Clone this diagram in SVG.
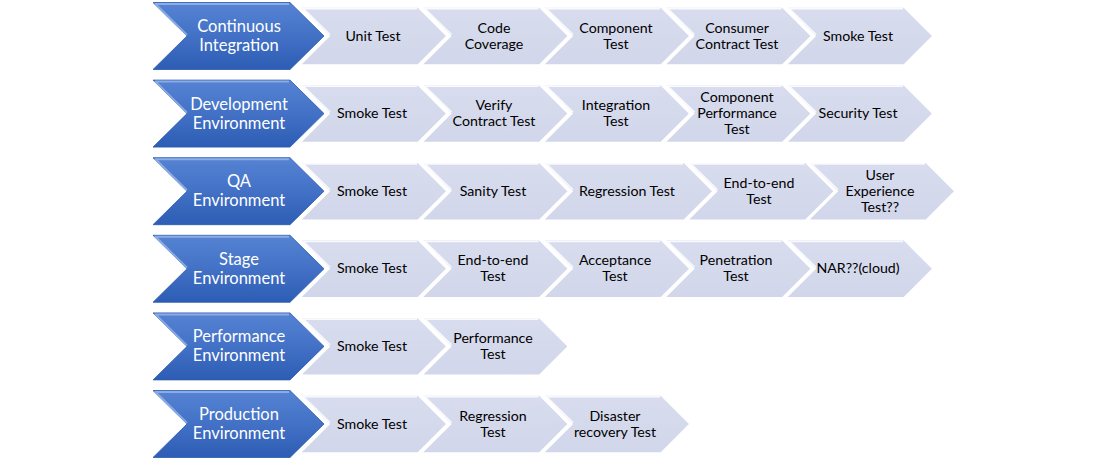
<svg xmlns="http://www.w3.org/2000/svg" xmlns:xlink="http://www.w3.org/1999/xlink" width="1105" height="462" viewBox="0 0 1105 462">
  <style>
    .stage { fill: url(#blueFill); stroke: #2a5aae; stroke-width: 0.8; }
    .stage-hl { fill: none; stroke: #9fbbea; stroke-width: 2; stroke-opacity: 0.75; stroke-linejoin: round; }
    .step { fill: url(#lightFill); stroke: #ffffff; stroke-width: 1.6; stroke-linejoin: miter; }
    .step-hl { fill: none; stroke: #ffffff; stroke-width: 1.6; stroke-opacity: 0.85; }
    .stage-text { font-family: "Lato", "Liberation Sans", sans-serif; font-size: 16.5px; fill: #ffffff; text-anchor: middle; }
    .step-text { font-family: "Lato", "Liberation Sans", sans-serif; font-size: 14.2px; fill: #000000; text-anchor: middle; }
  </style>
  <defs>
    <linearGradient id="blueFill" x1="0" y1="0" x2="0" y2="1">
      <stop offset="0" stop-color="#5683d3"/>
      <stop offset="0.5" stop-color="#4271c6"/>
      <stop offset="1" stop-color="#2d5db4"/>
    </linearGradient>
    <linearGradient id="lightFill" x1="0" y1="0" x2="0" y2="1">
      <stop offset="0" stop-color="#d8dcee"/>
      <stop offset="1" stop-color="#d1d6ea"/>
    </linearGradient>
    <!-- shapes drawn around a vertical centre of 0 -->
    <path id="stageShape" d="M0,-33.5 H137 L171,0 L137,33.5 H0 L34,0 Z"/>
    <path id="stageGloss" d="M34,-1 L2.5,-32 H136"/>
    <path id="stepShape" d="M0,-29 H118 L147,0 L118,29 H0 L29,0 Z"/>
    <path id="stepWide" d="M0,-29 H141 L170,0 L141,29 H0 L29,0 Z"/>
    <path id="stepGloss" d="M30,-1.5 L3.5,-27.3 H117"/>
    <path id="stepWideGloss" d="M30,-1.5 L3.5,-27.3 H140"/>
  </defs>

  <!-- Row 1: Continuous Integration -->
  <g id="row-ci">
    <g id="ci-unit"><use xlink:href="#stepShape" class="step" x="300" y="36"/><use xlink:href="#stepGloss" class="step-hl" x="300" y="36"/><text class="step-text" x="373" y="40.5">Unit Test</text></g>
    <g id="ci-coverage"><use xlink:href="#stepShape" class="step" x="421.5" y="36"/><use xlink:href="#stepGloss" class="step-hl" x="421.5" y="36"/><text class="step-text" x="494" y="32.5">Code<tspan x="494" dy="16">Coverage</tspan></text></g>
    <g id="ci-component"><use xlink:href="#stepShape" class="step" x="543" y="36"/><use xlink:href="#stepGloss" class="step-hl" x="543" y="36"/><text class="step-text" x="616" y="32.5">Component<tspan x="616" dy="16">Test</tspan></text></g>
    <g id="ci-consumer"><use xlink:href="#stepShape" class="step" x="664.5" y="36"/><use xlink:href="#stepGloss" class="step-hl" x="664.5" y="36"/><text class="step-text" x="737" y="32.5">Consumer<tspan x="737" dy="16">Contract Test</tspan></text></g>
    <g id="ci-smoke"><use xlink:href="#stepShape" class="step" x="786" y="36"/><use xlink:href="#stepGloss" class="step-hl" x="786" y="36"/><text class="step-text" x="858" y="40.5">Smoke Test</text></g>
    <g id="ci-stage"><use xlink:href="#stageShape" class="stage" x="153" y="36"/><use xlink:href="#stageGloss" class="stage-hl" x="153" y="36"/><text class="stage-text" x="239" y="32">Continuous<tspan x="239" dy="19">Integration</tspan></text></g>
  </g>

  <!-- Row 2: Development Environment -->
  <g id="row-dev">
    <g id="dev-smoke"><use xlink:href="#stepShape" class="step" x="300" y="113.6"/><use xlink:href="#stepGloss" class="step-hl" x="300" y="113.6"/><text class="step-text" x="372" y="118.1">Smoke Test</text></g>
    <g id="dev-verify"><use xlink:href="#stepShape" class="step" x="421.5" y="113.6"/><use xlink:href="#stepGloss" class="step-hl" x="421.5" y="113.6"/><text class="step-text" x="494" y="110.1">Verify<tspan x="494" dy="16">Contract Test</tspan></text></g>
    <g id="dev-integration"><use xlink:href="#stepShape" class="step" x="543" y="113.6"/><use xlink:href="#stepGloss" class="step-hl" x="543" y="113.6"/><text class="step-text" x="616" y="110.1">Integration<tspan x="616" dy="16">Test</tspan></text></g>
    <g id="dev-perf"><use xlink:href="#stepShape" class="step" x="664.5" y="113.6"/><use xlink:href="#stepGloss" class="step-hl" x="664.5" y="113.6"/><text class="step-text" x="737" y="102.1">Component<tspan x="737" dy="16">Performance</tspan><tspan x="737" dy="16">Test</tspan></text></g>
    <g id="dev-security"><use xlink:href="#stepShape" class="step" x="786" y="113.6"/><use xlink:href="#stepGloss" class="step-hl" x="786" y="113.6"/><text class="step-text" x="858" y="118.1">Security Test</text></g>
    <g id="dev-stage"><use xlink:href="#stageShape" class="stage" x="153" y="113.6"/><use xlink:href="#stageGloss" class="stage-hl" x="153" y="113.6"/><text class="stage-text" x="239" y="109.6">Development<tspan x="239" dy="19">Environment</tspan></text></g>
  </g>

  <!-- Row 3: QA Environment -->
  <g id="row-qa">
    <g id="qa-smoke"><use xlink:href="#stepShape" class="step" x="300" y="191.2"/><use xlink:href="#stepGloss" class="step-hl" x="300" y="191.2"/><text class="step-text" x="372" y="195.7">Smoke Test</text></g>
    <g id="qa-sanity"><use xlink:href="#stepShape" class="step" x="421.5" y="191.2"/><use xlink:href="#stepGloss" class="step-hl" x="421.5" y="191.2"/><text class="step-text" x="493" y="195.7">Sanity Test</text></g>
    <g id="qa-regression"><use xlink:href="#stepWide" class="step" x="543" y="191.2"/><use xlink:href="#stepWideGloss" class="step-hl" x="543" y="191.2"/><text class="step-text" x="627" y="195.7">Regression Test</text></g>
    <g id="qa-e2e"><use xlink:href="#stepShape" class="step" x="687.5" y="191.2"/><use xlink:href="#stepGloss" class="step-hl" x="687.5" y="191.2"/><text class="step-text" x="759" y="187.7">End-to-end<tspan x="759" dy="16">Test</tspan></text></g>
    <g id="qa-ux"><use xlink:href="#stepShape" class="step" x="808" y="191.2"/><use xlink:href="#stepGloss" class="step-hl" x="808" y="191.2"/><text class="step-text" x="880" y="179.7">User<tspan x="880" dy="16">Experience</tspan><tspan x="880" dy="16">Test??</tspan></text></g>
    <g id="qa-stage"><use xlink:href="#stageShape" class="stage" x="153" y="191.2"/><use xlink:href="#stageGloss" class="stage-hl" x="153" y="191.2"/><text class="stage-text" x="239" y="187.2">QA<tspan x="239" dy="19">Environment</tspan></text></g>
  </g>

  <!-- Row 4: Stage Environment -->
  <g id="row-stage">
    <g id="stg-smoke"><use xlink:href="#stepShape" class="step" x="300" y="268.8"/><use xlink:href="#stepGloss" class="step-hl" x="300" y="268.8"/><text class="step-text" x="372" y="273.3">Smoke Test</text></g>
    <g id="stg-e2e"><use xlink:href="#stepShape" class="step" x="421.5" y="268.8"/><use xlink:href="#stepGloss" class="step-hl" x="421.5" y="268.8"/><text class="step-text" x="493" y="265.3">End-to-end<tspan x="493" dy="16">Test</tspan></text></g>
    <g id="stg-acceptance"><use xlink:href="#stepShape" class="step" x="543" y="268.8"/><use xlink:href="#stepGloss" class="step-hl" x="543" y="268.8"/><text class="step-text" x="615" y="265.3">Acceptance<tspan x="615" dy="16">Test</tspan></text></g>
    <g id="stg-penetration"><use xlink:href="#stepShape" class="step" x="664.5" y="268.8"/><use xlink:href="#stepGloss" class="step-hl" x="664.5" y="268.8"/><text class="step-text" x="736" y="265.3">Penetration<tspan x="736" dy="16">Test</tspan></text></g>
    <g id="stg-nar"><use xlink:href="#stepShape" class="step" x="786" y="268.8"/><use xlink:href="#stepGloss" class="step-hl" x="786" y="268.8"/><text class="step-text" x="858" y="273.3">NAR??(cloud)</text></g>
    <g id="stg-stage"><use xlink:href="#stageShape" class="stage" x="153" y="268.8"/><use xlink:href="#stageGloss" class="stage-hl" x="153" y="268.8"/><text class="stage-text" x="239" y="264.8">Stage<tspan x="239" dy="19">Environment</tspan></text></g>
  </g>

  <!-- Row 5: Performance Environment -->
  <g id="row-perf">
    <g id="perf-smoke"><use xlink:href="#stepShape" class="step" x="300" y="346.4"/><use xlink:href="#stepGloss" class="step-hl" x="300" y="346.4"/><text class="step-text" x="372" y="350.9">Smoke Test</text></g>
    <g id="perf-test"><use xlink:href="#stepShape" class="step" x="421.5" y="346.4"/><use xlink:href="#stepGloss" class="step-hl" x="421.5" y="346.4"/><text class="step-text" x="493" y="342.9">Performance<tspan x="493" dy="16">Test</tspan></text></g>
    <g id="perf-stage"><use xlink:href="#stageShape" class="stage" x="153" y="346.4"/><use xlink:href="#stageGloss" class="stage-hl" x="153" y="346.4"/><text class="stage-text" x="239" y="342.4">Performance<tspan x="239" dy="19">Environment</tspan></text></g>
  </g>

  <!-- Row 6: Production Environment -->
  <g id="row-prod">
    <g id="prod-smoke"><use xlink:href="#stepShape" class="step" x="300" y="424"/><use xlink:href="#stepGloss" class="step-hl" x="300" y="424"/><text class="step-text" x="372" y="428.5">Smoke Test</text></g>
    <g id="prod-regression"><use xlink:href="#stepShape" class="step" x="421.5" y="424"/><use xlink:href="#stepGloss" class="step-hl" x="421.5" y="424"/><text class="step-text" x="493" y="420.5">Regression<tspan x="493" dy="16">Test</tspan></text></g>
    <g id="prod-disaster"><use xlink:href="#stepShape" class="step" x="543" y="424"/><use xlink:href="#stepGloss" class="step-hl" x="543" y="424"/><text class="step-text" x="615" y="420.5">Disaster<tspan x="615" dy="16">recovery Test</tspan></text></g>
    <g id="prod-stage"><use xlink:href="#stageShape" class="stage" x="153" y="424"/><use xlink:href="#stageGloss" class="stage-hl" x="153" y="424"/><text class="stage-text" x="239" y="420">Production<tspan x="239" dy="19">Environment</tspan></text></g>
  </g>

  <!-- adjacent chevrons carry the flow; no separate connector lines -->
  <g id="connectors"/>
</svg>
